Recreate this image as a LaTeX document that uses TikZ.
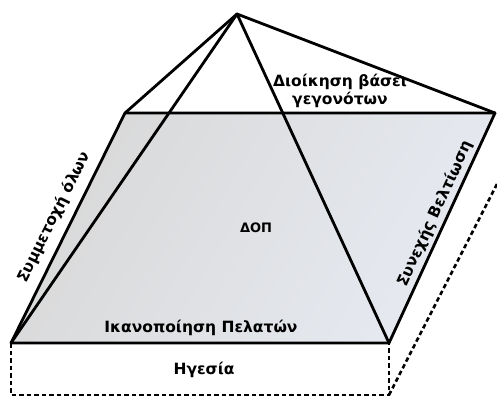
\documentclass[tikz,border=0pt]{standalone}
\usepackage{fontspec}
\setmainfont{DejaVu Sans}
\newfontfamily\lblfont{DejaVu Sans Bold}
\begin{document}
\begin{tikzpicture}[x=1pt,y=-1pt,
  edge/.style={line width=2.8pt,line join=round,line cap=round},
  dashedge/.style={line width=2.6pt,dash pattern=on 4.5pt off 3pt},
  lbl/.style={font=\lblfont\fontsize{15.5}{18}\selectfont,inner sep=0pt,align=center}]
\useasboundingbox (0,0) rectangle (497,399);
\coordinate (apex) at (237,14);
\coordinate (tl) at (125,113);
\coordinate (tr) at (495,113);
\coordinate (bl) at (11,343);
\coordinate (br) at (389,343);
\coordinate (dbl) at (11,395);
\coordinate (dbr) at (389,395);
\coordinate (dtr) at (497,184);
\shade[left color=black!15, right color={rgb,255:red,230;green,234;blue,241}, shading angle=60]
  (tl) -- (tr) -- (br) -- (bl) -- cycle;
\draw[dashedge] (bl) -- (dbl) -- (dbr) -- (br);
\draw[dashedge] (dbr) -- (dtr);
\draw[edge] (tl) -- (tr) -- (br) -- (bl) -- cycle;
\draw[edge] (tl) -- (apex) -- (tr);
\draw[edge] (bl) -- (apex) -- (br);
\node[lbl] (dioik) at (340,91) {Διοίκηση βάσει\\γεγονότων};
\node[lbl,font=\lblfont\fontsize{13}{15}\selectfont] (dop) at (256,228) {ΔΟΠ};
\node[lbl] (ikan) at (201,328) {Ικανοποίηση Πελατών};
\node[lbl] (hges) at (204,370) {Ηγεσία};
\node[lbl,rotate=63.6] (symm) at (54,217) {Συμμετοχή όλων};
\node[lbl,rotate=65.3] (syne) at (435,214) {Συνεχής Βελτίωση};
\end{tikzpicture}
\end{document}
